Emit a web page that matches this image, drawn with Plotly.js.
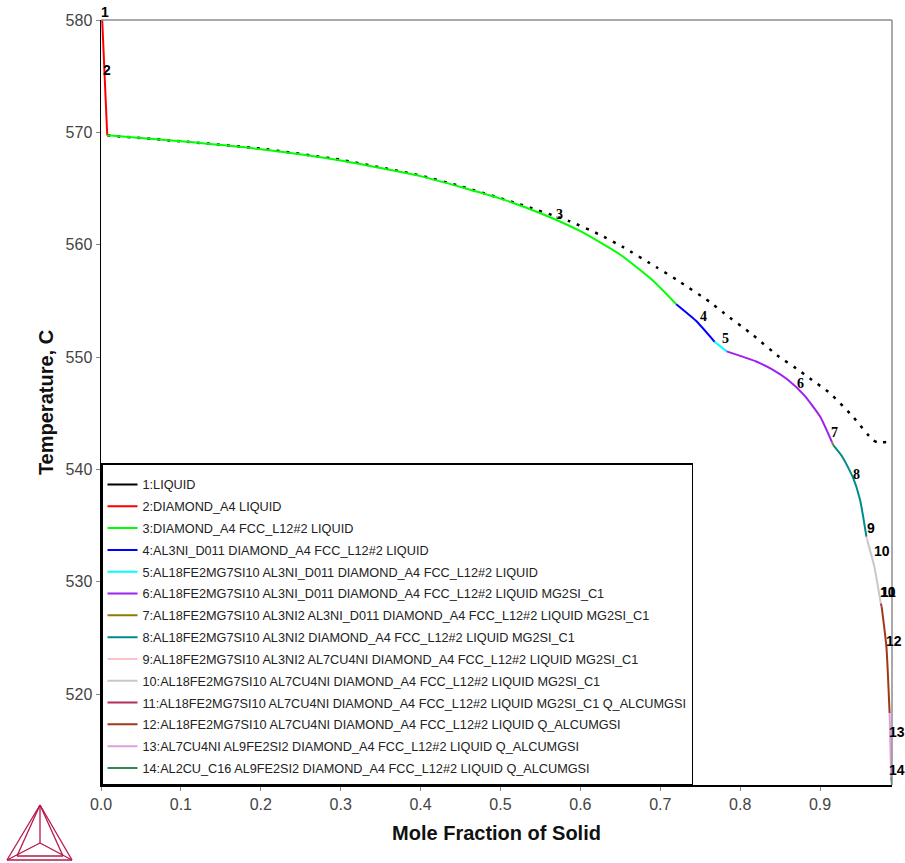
<!DOCTYPE html>
<html><head><meta charset="utf-8">
<script src="https://cdn.plot.ly/plotly-3.0.1.min.js"></script>
<style>html,body{margin:0;padding:0;background:#fff}#chart{width:905px;height:863px}</style>
</head><body><div id="chart"></div>
<script>
// Series data (mole fraction of solid, temperature in C)
const names = [
  "1:LIQUID",
  "2:DIAMOND_A4 LIQUID",
  "3:DIAMOND_A4 FCC_L12#2 LIQUID",
  "4:AL3NI_D011 DIAMOND_A4 FCC_L12#2 LIQUID",
  "5:AL18FE2MG7SI10 AL3NI_D011 DIAMOND_A4 FCC_L12#2 LIQUID",
  "6:AL18FE2MG7SI10 AL3NI_D011 DIAMOND_A4 FCC_L12#2 LIQUID MG2SI_C1",
  "7:AL18FE2MG7SI10 AL3NI2 AL3NI_D011 DIAMOND_A4 FCC_L12#2 LIQUID MG2SI_C1",
  "8:AL18FE2MG7SI10 AL3NI2 DIAMOND_A4 FCC_L12#2 LIQUID MG2SI_C1",
  "9:AL18FE2MG7SI10 AL3NI2 AL7CU4NI DIAMOND_A4 FCC_L12#2 LIQUID MG2SI_C1",
  "10:AL18FE2MG7SI10 AL7CU4NI DIAMOND_A4 FCC_L12#2 LIQUID MG2SI_C1",
  "11:AL18FE2MG7SI10 AL7CU4NI DIAMOND_A4 FCC_L12#2 LIQUID MG2SI_C1 Q_ALCUMGSI",
  "12:AL18FE2MG7SI10 AL7CU4NI DIAMOND_A4 FCC_L12#2 LIQUID Q_ALCUMGSI",
  "13:AL7CU4NI AL9FE2SI2 DIAMOND_A4 FCC_L12#2 LIQUID Q_ALCUMGSI",
  "14:AL2CU_C16 AL9FE2SI2 DIAMOND_A4 FCC_L12#2 LIQUID Q_ALCUMGSI"
];
const colors = ["#000000","#ff0000","#00ff00","#0000ff","#00ffff","#a020f0","#8b7d00","#008b8b","#ffc0cb","#c8c8c8","#b03060","#a0381a","#dda0dd","#2e8b57"];

const x1 = [0.0, 0.0];            const y1 = [580.0, 580.0];
const x2 = [0.0015, 0.0078];      const y2 = [580.0, 569.73];
const x3 = [0.0078, 0.1, 0.2, 0.3, 0.4, 0.5, 0.55, 0.6, 0.65, 0.69, 0.72];
const y3 = [569.73, 569.2, 568.5, 567.5, 566.1, 564.1, 562.8, 561.2, 559.1, 556.85, 554.7];
const x4 = [0.72, 0.745, 0.768];  const y4 = [554.7, 553.2, 551.35];
const x5 = [0.768, 0.783];        const y5 = [551.35, 550.5];
const x6 = [0.783, 0.80, 0.82, 0.84, 0.86, 0.88, 0.90, 0.915];
const y6 = [550.5, 550.1, 549.6, 548.9, 547.95, 546.6, 544.7, 542.4];
const x7 = [0.915, 0.9165];       const y7 = [542.4, 542.15];
const x8 = [0.9165, 0.928, 0.941, 0.950, 0.958];
const y8 = [542.15, 541.1, 539.3, 537.3, 534.0];
const x9 = [0.958, 0.959];        const y9 = [534.0, 533.7];
const x10 = [0.959, 0.968, 0.976]; const y10 = [533.7, 531.3, 528.05];
const x11 = [0.976, 0.977];       const y11 = [528.05, 527.8];
const x12 = [0.977, 0.983, 0.987]; const y12 = [527.8, 524.2, 518.3];
const x13 = [0.987, 0.989];       const y13 = [518.3, 512.6];
const x14 = [0.989, 0.99];        const y14 = [512.6, 511.9];

// equilibrium (dotted) curve
const xEq = [0.0078, 0.1, 0.2, 0.3, 0.4, 0.45, 0.524, 0.586, 0.624, 0.653, 0.695, 0.72, 0.762, 0.778, 0.816, 0.849, 0.870, 0.887, 0.912, 0.941, 0.966, 0.972, 0.985];
const yEq = [569.73, 569.2, 568.55, 567.55, 566.15, 565.2, 563.6, 562.1, 560.9, 559.8, 558.0, 556.9, 554.9, 554.0, 551.95, 550.0, 549.0, 548.1, 546.8, 544.7, 542.6, 542.4, 542.45];

// curve labels (text anchors in data units)
const labText = ["1","2","3","4","5","6","7","8","9","10","10","11","12","13","14"];
const labX = [0.0056, 0.0081, 0.574, 0.754, 0.782, 0.875, 0.918, 0.946, 0.964, 0.977, 0.985, 0.985, 0.993, 0.996, 0.996];
const labY = [580.75, 575.55, 562.73, 553.64, 551.68, 547.68, 543.31, 539.57, 534.76, 532.72, 529.06, 529.06, 524.7, 516.6, 513.2];
const labSerif = [false,false,true,true,true,true,true,true,false,false,false,false,false,false,false];

const XR = [0, 0.99], YR = [511.9, 580];
const xs = [x1,x2,x3,x4,x5,x6,x7,x8,x9,x10,x11,x12,x13,x14];
const ys = [y1,y2,y3,y4,y5,y6,y7,y8,y9,y10,y11,y12,y13,y14];

const traces = [];
traces.push({x:xEq, y:yEq, mode:'lines', showlegend:false, hoverinfo:'skip',
  line:{color:'#000', width:2.5, dash:'3px,7px', shape:'spline', smoothing:0.5}});
for (let i = 0; i < names.length; i++) {
  traces.push({x:xs[i], y:ys[i], mode:'lines', name:names[i], legendgroup:'g'+i,
    line:{color:colors[i], width:2, shape:'spline', smoothing:0.5}});
}

const annotations = labText.map((t,i)=>({
  x:(labX[i]-XR[0])/(XR[1]-XR[0]), y:(labY[i]-YR[0])/(YR[1]-YR[0]), xref:'paper', yref:'paper', text:t, showarrow:false,
  xanchor:'center', yanchor:'middle',
  font:{family: labSerif[i] ? '"Liberation Serif", serif' : '"Liberation Sans", Arial, sans-serif', size:14, color:'#000', weight:'bold'}
}));

// Thermo-Calc style logo (paper coords, left of / below plot)
const px = v => (v - 101) / 791, py = v => (785 - v) / 765;
const logoC = '#b5174a';
function seg(a,b,c,d){return {type:'line', xref:'paper', yref:'paper', x0:px(a), y0:py(b), x1:px(c), y1:py(d), line:{color:logoC, width:1.3}};}
const shapes = [
  {type:'line', xref:'paper', yref:'paper', x0:0, x1:1, y0:1, y1:1, line:{color:'#8c8c8c', width:1.5}},
  {type:'line', xref:'paper', yref:'paper', x0:1, x1:1, y0:0, y1:1, line:{color:'#8c8c8c', width:1.5}},
  seg(40,805,7,860), seg(7,860,72,860), seg(72,860,40,805),
  seg(40,805,40,843), seg(40,843,7,860), seg(40,843,72,860),
  seg(40,805,17,856), seg(40,805,63,856), seg(17,856,63,856)
];

const layout = {
  width:905, height:863,
  margin:{l:101, r:13, t:20, b:78},
  paper_bgcolor:'#fff', plot_bgcolor:'#fff',
  font:{family:'"Liberation Sans", Arial, sans-serif', color:'#444'},
  xaxis:{range:XR, tickvals:[0,0.1,0.2,0.3,0.4,0.5,0.6,0.7,0.8,0.9],
    ticktext:['0.0','0.1','0.2','0.3','0.4','0.5','0.6','0.7','0.8','0.9'],
    showgrid:false, zeroline:false, showline:true, linecolor:'#000', linewidth:1.5,
    ticks:'outside', ticklen:4, tickcolor:'#888', tickfont:{size:16, color:'#444'},
    title:{text:'Mole Fraction of Solid', font:{size:20, color:'#111', weight:'bold'}, standoff:14}},
  yaxis:{range:YR, tickvals:[520,530,540,550,560,570,580],
    showgrid:false, zeroline:false, showline:true, linecolor:'#000', linewidth:1.5,
    ticks:'outside', ticklen:4, tickcolor:'#888', tickfont:{size:16, color:'#444'},
    title:{text:'Temperature, C', font:{size:20, color:'#111', weight:'bold'}, standoff:6}},
  legend:{x:0, y:0, xanchor:'left', yanchor:'bottom', bgcolor:'#fff', bordercolor:'#000', borderwidth:1.5,
    font:{size:12.7, color:'#222'}, tracegroupgap:2.3, itemclick:false,
    title:{text:'\u00a0', font:{size:4}}},
  annotations:annotations,
  shapes:shapes
};
Plotly.newPlot('chart', traces, layout, {displayModeBar:false, staticPlot:true});
</script></body></html>
